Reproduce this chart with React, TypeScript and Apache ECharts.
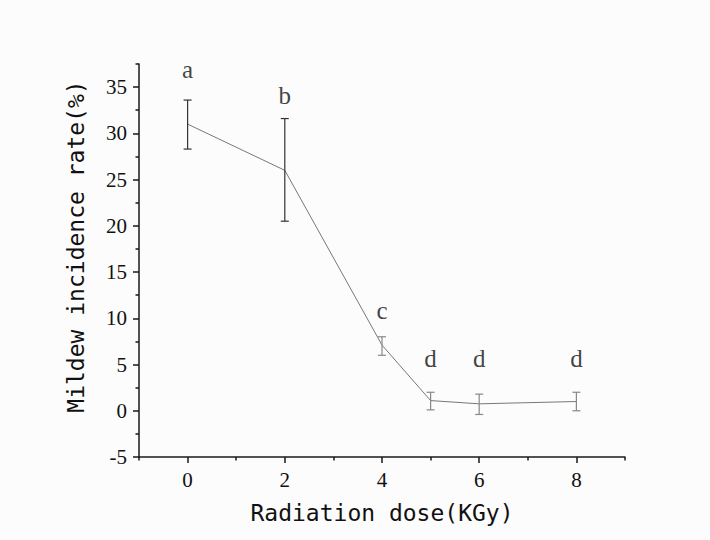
import React, { useEffect, useRef } from "react";
import * as echarts from "echarts";

const doses = [0, 2, 4, 5, 6, 8];
const means = [31.0, 26.0, 7.1, 1.1, 0.75, 1.0];
const errLow = [28.3, 20.5, 6.0, 0.1, -0.4, 0.0];
const errHigh = [33.6, 31.6, 8.0, 2.0, 1.8, 2.0];
const letters = ["a", "b", "c", "d", "d", "d"];
const letterY = [36.9, 34.1, 10.8, 5.6, 5.6, 5.7];

const xMajor = [0, 2, 4, 6, 8];
const xMinor = [-1, 1, 3, 5, 7, 9];
const yMajor = [-5, 0, 5, 10, 15, 20, 25, 30, 35];
const yMinor = [-2.5, 2.5, 7.5, 12.5, 17.5, 22.5, 27.5, 32.5, 37.5];

const errColors = ["#333", "#333", "#888", "#888", "#888", "#888"];

const SERIF = "'Liberation Serif', 'DejaVu Serif', serif";
const MONO = "'DejaVu Sans Mono', 'Liberation Mono', monospace";

export default function App() {
  const ref = useRef<HTMLDivElement>(null);
  useEffect(() => {
    if (!ref.current) return;
    const chart = echarts.init(ref.current, null, { renderer: "svg" });
    const gridRect = { left: 139, top: 64, width: 486, height: 393 };
    const axisLine = { show: true, onZero: false, lineStyle: { color: "#1a1a1a", width: 1.5 } };
    const tickStyle = { color: "#1a1a1a", width: 1.5 };
    chart.setOption({
      animation: false,
      backgroundColor: "#fcfcfc",
      grid: [
        { ...gridRect, containLabel: false },
        { ...gridRect, containLabel: false },
      ],
      xAxis: [
        {
          type: "value",
          gridIndex: 0,
          min: -1,
          max: 9,
          axisLine,
          axisTick: { show: true, inside: false, length: 6, customValues: xMajor, lineStyle: tickStyle },
          axisLabel: { customValues: xMajor, fontFamily: SERIF, fontSize: 21, color: "#111", margin: 12 },
          splitLine: { show: false },
          name: "Radiation dose(KGy)",
          nameLocation: "middle",
          nameGap: 44,
          nameTextStyle: { fontFamily: MONO, fontSize: 23, color: "#111" },
        },
        {
          type: "value",
          gridIndex: 1,
          min: -1,
          max: 9,
          axisLine: { show: false, onZero: false },
          axisTick: { show: true, inside: false, length: 3.5, customValues: xMinor, lineStyle: tickStyle },
          axisLabel: { show: false },
          splitLine: { show: false },
        },
      ],
      yAxis: [
        {
          type: "value",
          gridIndex: 0,
          min: -5,
          max: 37.5,
          axisLine,
          axisTick: { show: true, inside: false, length: 6, customValues: yMajor, lineStyle: tickStyle },
          axisLabel: { customValues: yMajor, fontFamily: SERIF, fontSize: 21, color: "#111", margin: 12 },
          splitLine: { show: false },
          name: "Mildew incidence rate(%)",
          nameLocation: "middle",
          nameGap: 52,
          nameTextStyle: { fontFamily: MONO, fontSize: 23, color: "#111", padding: [0, 0, 0, 28] },
        },
        {
          type: "value",
          gridIndex: 1,
          min: -5,
          max: 37.5,
          axisLine: { show: false, onZero: false },
          axisTick: { show: true, inside: false, length: 3.5, customValues: yMinor, lineStyle: tickStyle },
          axisLabel: { show: false },
          splitLine: { show: false },
        },
      ],
      series: [
        {
          type: "line",
          xAxisIndex: 0,
          yAxisIndex: 0,
          data: doses.map((d, i) => [d, means[i]]),
          symbol: "none",
          lineStyle: { color: "#777", width: 1 },
          z: 2,
        },
        {
          type: "custom",
          xAxisIndex: 0,
          yAxisIndex: 0,
          data: doses.map((d, i) => [d, errLow[i], errHigh[i]]),
          renderItem: (params: any, api: any) => {
            const x = api.value(0);
            const lo = api.coord([x, api.value(1)]);
            const hi = api.coord([x, api.value(2)]);
            const half = 4;
            const color = errColors[params.dataIndex];
            const style = { stroke: color, lineWidth: 1.2 };
            return {
              type: "group",
              children: [
                { type: "line", shape: { x1: lo[0], y1: lo[1], x2: hi[0], y2: hi[1] }, style },
                { type: "line", shape: { x1: hi[0] - half, y1: hi[1], x2: hi[0] + half, y2: hi[1] }, style },
                { type: "line", shape: { x1: lo[0] - half, y1: lo[1], x2: lo[0] + half, y2: lo[1] }, style },
              ],
            };
          },
          z: 3,
        },
        {
          type: "scatter",
          xAxisIndex: 0,
          yAxisIndex: 0,
          data: doses.map((d, i) => [d, letterY[i]]),
          symbolSize: 1,
          itemStyle: { color: "rgba(0,0,0,0)" },
          label: {
            show: true,
            position: "inside",
            formatter: (p: any) => letters[p.dataIndex],
            fontFamily: SERIF,
            fontSize: 25,
            color: "#111",
          },
          z: 4,
        },
      ],
    });
    return () => chart.dispose();
  }, []);
  return (
    <div
      ref={ref}
      style={{ position: "absolute", left: 0, top: 0, width: 710, height: 540 }}
    />
  );
}
